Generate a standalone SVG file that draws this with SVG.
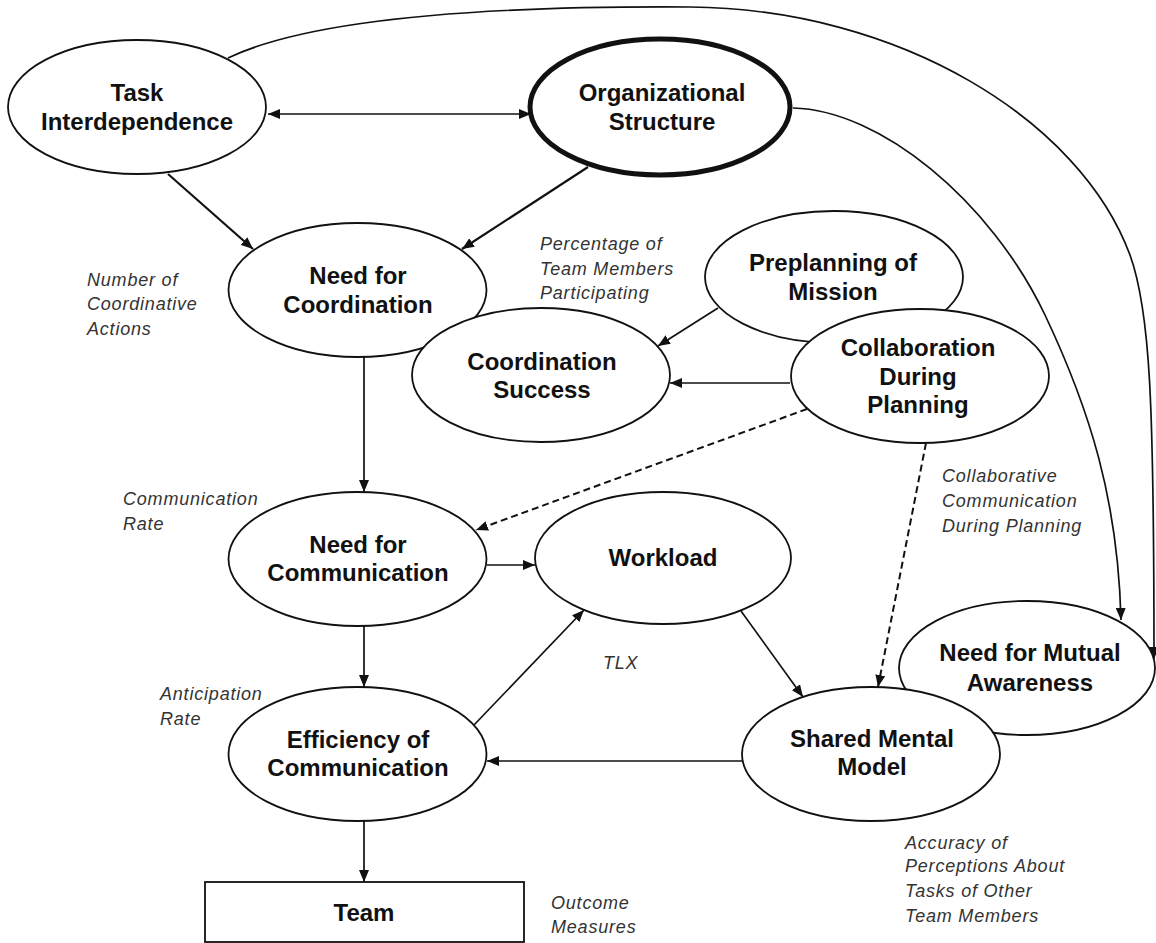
<svg xmlns="http://www.w3.org/2000/svg" width="1156" height="943" viewBox="0 0 1156 943">
<defs>
<style>
.node ellipse, .node rect { fill: #fff; stroke: #111; stroke-width: 1.8; }
.thick { stroke-width: 5 !important; }
.t { font-family: "Liberation Sans", Arial, sans-serif; font-weight: bold; font-size: 24px; fill: #111; text-anchor: middle; }
.lbl { font-family: "Liberation Sans", Arial, sans-serif; font-style: italic; font-size: 18px; letter-spacing: 0.8px; fill: #333; }
.c { fill: none; stroke: #111; stroke-width: 1.7; marker-end: url(#ah); }
.cw { stroke-width: 2.2; }
.d { stroke-dasharray: 7 4; stroke-width: 2; }
</style>
<marker id="ah" viewBox="0 0 12 10" refX="12" refY="5" markerWidth="12" markerHeight="10" markerUnits="userSpaceOnUse" orient="auto-start-reverse">
<path d="M0,0 L12,5 L0,10 z" fill="#111"/>
</marker>
</defs>
<rect width="1156" height="943" fill="#fff"/>

<g id="node-task-interdependence" class="node">
<ellipse cx="137" cy="107" rx="129" ry="67"/>
<text class="t" x="137" y="101">Task</text>
<text class="t" x="137" y="130">Interdependence</text>
</g>
<g id="node-organizational-structure" class="node">
<ellipse class="thick" cx="660" cy="107" rx="130" ry="68"/>
<text class="t" x="662" y="101">Organizational</text>
<text class="t" x="662" y="130">Structure</text>
</g>
<g id="node-need-for-coordination" class="node">
<ellipse cx="357.5" cy="290" rx="129" ry="67"/>
<text class="t" x="358" y="284">Need for</text>
<text class="t" x="358" y="313">Coordination</text>
</g>
<g id="node-coordination-success" class="node">
<ellipse cx="541" cy="375" rx="129" ry="67"/>
<text class="t" x="542" y="370">Coordination</text>
<text class="t" x="542" y="398">Success</text>
</g>
<g id="node-preplanning-of-mission" class="node">
<ellipse cx="834" cy="277" rx="129" ry="66"/>
<text class="t" x="833" y="271">Preplanning of</text>
<text class="t" x="833" y="300">Mission</text>
</g>
<g id="node-collaboration-during-planning" class="node">
<ellipse cx="920" cy="376" rx="129" ry="67"/>
<text class="t" x="918" y="356">Collaboration</text>
<text class="t" x="918" y="385">During</text>
<text class="t" x="918" y="413">Planning</text>
</g>
<g id="node-need-for-communication" class="node">
<ellipse cx="357.5" cy="559" rx="129" ry="67"/>
<text class="t" x="358" y="553">Need for</text>
<text class="t" x="358" y="581">Communication</text>
</g>
<g id="node-workload" class="node">
<ellipse cx="663" cy="558" rx="128" ry="66"/>
<text class="t" x="663" y="566">Workload</text>
</g>
<g id="node-need-for-mutual-awareness" class="node">
<ellipse cx="1027" cy="668" rx="128" ry="67"/>
<text class="t" x="1030" y="661">Need for Mutual</text>
<text class="t" x="1030" y="691">Awareness</text>
</g>
<g id="node-shared-mental-model" class="node">
<ellipse cx="871" cy="754" rx="129" ry="67"/>
<text class="t" x="872" y="747">Shared Mental</text>
<text class="t" x="872" y="775">Model</text>
</g>
<g id="node-efficiency-of-communication" class="node">
<ellipse cx="357.5" cy="754" rx="129" ry="67"/>
<text class="t" x="358" y="748">Efficiency of</text>
<text class="t" x="358" y="776">Communication</text>
</g>
<g id="node-team" class="node">
<rect x="205" y="882" width="319" height="60"/>
<text class="t" x="364" y="921">Team</text>
</g>

<g id="connectors">
<line class="c" x1="268" y1="114" x2="531" y2="114" marker-start="url(#ah)"/>
<line class="c cw" x1="168" y1="174" x2="253" y2="249"/>
<line class="c cw" x1="588" y1="167" x2="462" y2="249"/>
<path class="c" d="M228,58 C320,14 520,6 690,7 C900,9 1080,120 1130,255 C1150,310 1154,400 1154,659"/>
<path class="c" d="M793,108 C880,110 990,200 1045,315 C1090,410 1118,500 1121,620"/>
<line class="c" x1="718" y1="308" x2="658" y2="346"/>
<line class="c" x1="790" y1="383" x2="670" y2="383"/>
<line class="c d" x1="807" y1="409" x2="476" y2="530"/>
<line class="c d" x1="926" y1="443" x2="878" y2="687"/>
<line class="c" x1="364" y1="357" x2="364" y2="492"/>
<line class="c" x1="487" y1="565" x2="535" y2="565"/>
<line class="c" x1="364" y1="626" x2="364" y2="687"/>
<line class="c" x1="474" y1="725" x2="584" y2="610"/>
<line class="c" x1="741" y1="611" x2="803" y2="697"/>
<line class="c" x1="742" y1="761" x2="487" y2="761"/>
<line class="c" x1="364" y1="821" x2="364" y2="882"/>
</g>

<g id="labels">
<text class="lbl" x="87" y="286">Number of</text>
<text class="lbl" x="87" y="310">Coordinative</text>
<text class="lbl" x="87" y="335">Actions</text>
<text class="lbl" x="540" y="250">Percentage of</text>
<text class="lbl" x="540" y="275">Team Members</text>
<text class="lbl" x="540" y="299">Participating</text>
<text class="lbl" x="123" y="505">Communication</text>
<text class="lbl" x="123" y="530">Rate</text>
<text class="lbl" x="942" y="482">Collaborative</text>
<text class="lbl" x="942" y="507">Communication</text>
<text class="lbl" x="942" y="532">During Planning</text>
<text class="lbl" x="603" y="669">TLX</text>
<text class="lbl" x="160" y="700">Anticipation</text>
<text class="lbl" x="160" y="725">Rate</text>
<text class="lbl" x="905" y="849">Accuracy of</text>
<text class="lbl" x="905" y="872">Perceptions About</text>
<text class="lbl" x="905" y="897">Tasks of Other</text>
<text class="lbl" x="905" y="922">Team Members</text>
<text class="lbl" x="551" y="909">Outcome</text>
<text class="lbl" x="551" y="933">Measures</text>
</g>
</svg>
